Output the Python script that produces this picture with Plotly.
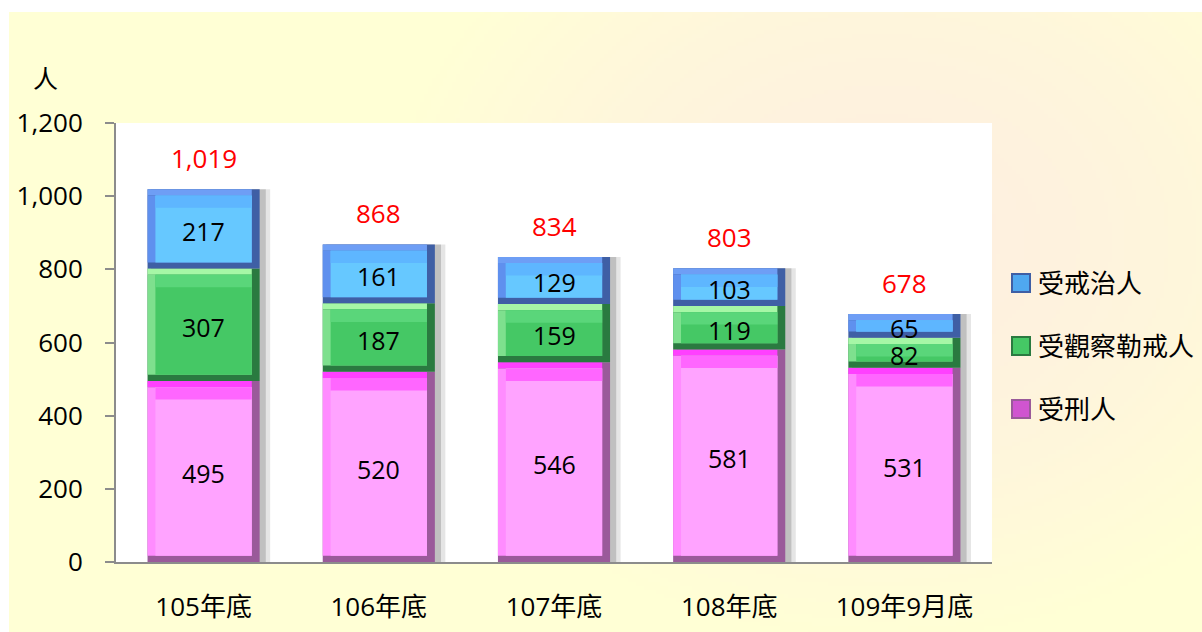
import zlib, struct, base64
import plotly.graph_objects as go

# ---------------- data ----------------
categories = ["105年底", "106年底", "107年底", "108年底", "109年9月底"]
series_names = ["受刑人", "受觀察勒戒人", "受戒治人"]
prisoners = [495, 520, 546, 581, 531]          # 受刑人
observation = [307, 187, 159, 119, 82]         # 受觀察勒戒人
rehab = [217, 161, 129, 103, 65]               # 受戒治人
totals = [1019, 868, 834, 803, 678]
y_ticks = [0, 200, 400, 600, 800, 1000, 1200]

series_values = [prisoners, observation, rehab]
# (dark edge, top edge, left edge, face top, face)
series_colors = [
    ("#9A5A9A", "#FF40FF", "#FF8CFF", "#FF66FF", "#FFA3FF"),
    ("#2A7A40", "#A6F7A6", "#7EE08E", "#5AD67A", "#45C865"),
    ("#3F5FA5", "#6E9EF5", "#5F90EE", "#5EB6FF", "#66C8FF"),
]
legend_colors = ["#D055D0", "#45C865", "#4FA8F0"]

FONT = "Open Sans, Noto Sans CJK TC"
W, H = 1202, 632
ML, MR, MT, MB = 116, 210, 123, 70
PW, PH = W - ML - MR, H - MT - MB

BW = 0.64        # bar width (category units)
BX = 0.045       # bevel width (category units)
BY = 17          # bevel height (data units)

def px_x(px):
    return (px - ML) / PW

def px_y(py):
    return (MT + PH - py) / PH

# ---------------- background gradient image ----------------
def make_png(w, h, fn):
    raw = bytearray()
    for j in range(h):
        raw.append(0)
        for i in range(w):
            raw.extend(fn(i, j))
    def chunk(t, d):
        c = struct.pack('>I', len(d)) + t + d
        return c + struct.pack('>I', zlib.crc32(t + d) & 0xffffffff)
    png = (b'\x89PNG\r\n\x1a\n'
           + chunk(b'IHDR', struct.pack('>IIBBBBB', w, h, 8, 2, 0, 0, 0))
           + chunk(b'IDAT', zlib.compress(bytes(raw)))
           + chunk(b'IEND', b''))
    return 'data:image/png;base64,' + base64.b64encode(png).decode()

BG_X0, BG_Y0 = 9, 12
bw_px, bh_px = W - BG_X0 + 4, H - BG_Y0 + 4
SC = 4
gw, gh = bw_px // SC, bh_px // SC
c_in = (254, 239, 224)
c_out = (255, 255, 213)
cx, cy, rx, ry = (880 - BG_X0) / SC, (240 - BG_Y0) / SC, 500 / SC, 400 / SC

def grad(i, j):
    r = (((i - cx) / rx) ** 2 + ((j - cy) / ry) ** 2) ** 0.5
    t = min(1.0, r) ** 1.6
    return bytes(int(round(a + (b - a) * t)) for a, b in zip(c_in, c_out))

bg_src = make_png(gw, gh, grad)

fig = go.Figure()

# shadows
for ext, op in [(0.06, 0.10), (0.035, 0.16)]:
    fig.add_trace(go.Bar(
        x=categories, y=totals, base=[0] * len(totals),
        width=BW + ext - 0.02, offset=-BW / 2 + 0.02,
        marker=dict(color="rgba(0,0,0,%s)" % op, line=dict(width=0)),
        showlegend=False, hoverinfo="skip"))

def seg(vals, base, width, offset, color):
    fig.add_trace(go.Bar(
        x=categories, y=vals, base=base, width=width, offset=offset,
        marker=dict(color=color, line=dict(width=0)),
        showlegend=False, hoverinfo="skip"))

# stacked bevelled segments
lows = [0] * len(categories)
for name, vals, (dark, top, left, ftop, face) in zip(series_names, series_values, series_colors):
    highs = [lo + v for lo, v in zip(lows, vals)]
    seg(vals, lows, BW, -BW / 2, dark)
    seg([BY] * len(vals), [hi - BY for hi in highs], BW - BX, -BW / 2, top)
    seg([v - 2 * BY for v in vals], [lo + BY for lo in lows], BW - BX, -BW / 2, left)
    seg([v - 2 * BY for v in vals], [lo + BY for lo in lows], BW - 2 * BX, -BW / 2 + BX, face)
    seg([min(2 * BY, max(v - 2 * BY, 0)) for v in vals],
        [hi - BY - min(2 * BY, max(v - 2 * BY, 0)) for hi, v in zip(highs, vals)],
        BW - 2 * BX, -BW / 2 + BX, ftop)
    for c, lo, v in zip(categories, lows, vals):
        fig.add_annotation(x=c, y=lo + v / 2, text=str(v), showarrow=False,
                           yanchor="middle", yshift=-2,
                           font=dict(family=FONT, size=25, color="black"))
    lows = highs

# legend (drawn manually, top to bottom)
legend_y = [283, 346, 409]
for ly, idx in zip(legend_y, [2, 1, 0]):
    dark = series_colors[idx][0]
    fig.add_shape(type="rect", xref="paper", yref="paper",
                  x0=px_x(1012), x1=px_x(1030), y0=px_y(ly + 9), y1=px_y(ly - 9),
                  fillcolor=legend_colors[idx], line=dict(color=dark, width=2))
    fig.add_annotation(xref="paper", yref="paper", x=px_x(1036), y=px_y(ly),
                       text=series_names[idx], showarrow=False,
                       xanchor="left", yanchor="middle",
                       font=dict(family=FONT, size=26, color="black"))

# totals
for c, t in zip(categories, totals):
    fig.add_annotation(x=c, y=t, text=f"{t:,}", showarrow=False,
                       yanchor="bottom", yshift=11,
                       font=dict(family=FONT, size=26, color="#FF0000"))

fig.add_annotation(xref="paper", yref="paper", x=px_x(45), y=px_y(78),
                   text="人", showarrow=False, xanchor="center", yanchor="middle",
                   font=dict(family=FONT, size=25, color="black"))

fig.add_layout_image(dict(
    source=bg_src, xref="paper", yref="paper",
    x=px_x(BG_X0), y=px_y(BG_Y0),
    sizex=bw_px / PW, sizey=bh_px / PH, sizing="stretch",
    xanchor="left", yanchor="top", layer="below"))
fig.add_shape(type="rect", xref="paper", yref="paper", x0=0, x1=1, y0=0, y1=1,
              fillcolor="white", line=dict(width=0), layer="below")

fig.update_layout(
    width=W, height=H,
    margin=dict(l=ML, r=MR, t=MT, b=MB),
    paper_bgcolor="white", plot_bgcolor="rgba(0,0,0,0)",
    barmode="overlay", showlegend=False,
    font=dict(family=FONT, size=26, color="black"),
    xaxis=dict(showline=True, linecolor="#8C8C8C", linewidth=2, ticks="",
               showgrid=False, tickfont=dict(family=FONT, size=26),
               ticklabelstandoff=21, range=[-0.5, 4.5], automargin=False),
    yaxis=dict(range=[0, 1200], tickvals=y_ticks, tickformat=",d",
               showline=True, linecolor="#8C8C8C", linewidth=2,
               ticks="outside", ticklen=9, tickcolor="#8C8C8C", tickwidth=2,
               showgrid=False, zeroline=False, tickfont=dict(family=FONT, size=26),
               ticklabelstandoff=17, automargin=False),
)

fig.write_html("out.html", config={"displayModeBar": False},
               post_script="document.body.style.margin='0px';")
